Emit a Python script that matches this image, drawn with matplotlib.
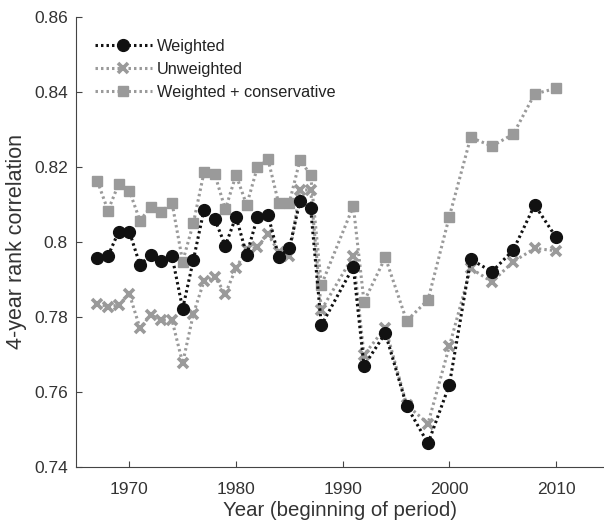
import numpy as np
import matplotlib
matplotlib.use("Agg")
import matplotlib.pyplot as plt

plt.rcParams['font.family'] = ['Liberation Sans', 'DejaVu Sans']

# years: annual until 1988, then 1991, 1992 and every two years
years = [1967, 1968, 1969, 1970, 1971, 1972, 1973, 1974, 1975, 1976, 1977,
         1978, 1979, 1980, 1981, 1982, 1983, 1984, 1985, 1986, 1987, 1988,
         1991, 1992, 1994, 1996, 1998, 2000, 2002, 2004, 2006, 2008, 2010]

weighted = [0.7956, 0.7962, 0.8027, 0.8027, 0.7938, 0.7965, 0.7949, 0.7962,
            0.7821, 0.7951, 0.8085, 0.8061, 0.7989, 0.8067, 0.7965, 0.8065,
            0.8072, 0.7960, 0.7982, 0.8109, 0.8089, 0.7777,
            0.7933, 0.7669, 0.7756, 0.7562, 0.7462, 0.7618, 0.7953, 0.7920,
            0.7978, 0.8098, 0.8012]

unweighted = [0.7834, 0.7827, 0.7831, 0.7861, 0.7769, 0.7805, 0.7791, 0.7791,
              0.7676, 0.7807, 0.7895, 0.7907, 0.7861, 0.7929, 0.7980, 0.7985,
              0.8021, 0.7972, 0.7962, 0.8138, 0.8138, 0.7818,
              0.7962, 0.7698, 0.7771, 0.7565, 0.7515, 0.7721, 0.7929, 0.7893,
              0.7947, 0.7982, 0.7976]

conservative = [0.8162, 0.8083, 0.8154, 0.8136, 0.8056, 0.8093, 0.8080, 0.8104,
                0.7947, 0.8049, 0.8185, 0.8181, 0.8086, 0.8178, 0.8098, 0.8198,
                0.8220, 0.8102, 0.8104, 0.8218, 0.8178, 0.7884,
                0.8095, 0.7840, 0.7958, 0.7789, 0.7845, 0.8067, 0.8278, 0.8255,
                0.8287, 0.8394, 0.8409]

xticks = [1970, 1980, 1990, 2000, 2010]
yticks = [0.74, 0.76, 0.78, 0.8, 0.82, 0.84, 0.86]
yticklabels = ['0.74', '0.76', '0.78', '0.8', '0.82', '0.84', '0.86']

black = '#111111'
gray = '#9a9a9a'
dots = (0, (0.8, 1.0))

fig = plt.figure(figsize=(6.04, 5.24), dpi=100)
ax = fig.add_axes([76 / 604, 57.3 / 524, 528 / 604, 450 / 524])

ax.plot(years, conservative, color=gray, ls=dots, lw=2.2, marker='s', ms=7.5,
        mfc=gray, mec=gray, label='Weighted + conservative', zorder=2)
ax.plot(years, unweighted, color=gray, ls=dots, lw=2.2, marker='x', ms=7.5,
        mew=2.6, mfc=gray, mec=gray, label='Unweighted', zorder=3)
ax.plot(years, weighted, color=black, ls=dots, lw=2.2, marker='o', ms=8.5,
        mfc=black, mec=black, label='Weighted', zorder=4)

ax.set_xlim(1965, 2014.5)
ax.set_ylim(0.74, 0.86)
ax.set_xticks(xticks)
ax.set_yticks(yticks)
ax.set_yticklabels(yticklabels)
ax.tick_params(direction='in', length=4, width=0.8, colors='#444444',
               labelsize=12.5, labelcolor='#333333')
ax.tick_params(axis='x', pad=11)
ax.tick_params(axis='y', pad=6)
for s in ['top', 'right']:
    ax.spines[s].set_visible(False)
for s in ['left', 'bottom']:
    ax.spines[s].set_color('#444444')
    ax.spines[s].set_linewidth(0.8)

ax.set_xlabel('Year (beginning of period)', fontsize=14.7, color='#333333', labelpad=3)
ax.set_ylabel('4-year rank correlation', fontsize=15.5, color='#333333', labelpad=5)

h, l = ax.get_legend_handles_labels()
leg = ax.legend(h[::-1], l[::-1], loc='upper left', bbox_to_anchor=(0.036, 0.951),
                frameon=False, fontsize=11.7, handlelength=3.5, handletextpad=0.3,
                labelspacing=0.5, borderaxespad=0, borderpad=0)
for t in leg.get_texts():
    t.set_color('#222222')

fig.savefig('out.png', dpi=100)
